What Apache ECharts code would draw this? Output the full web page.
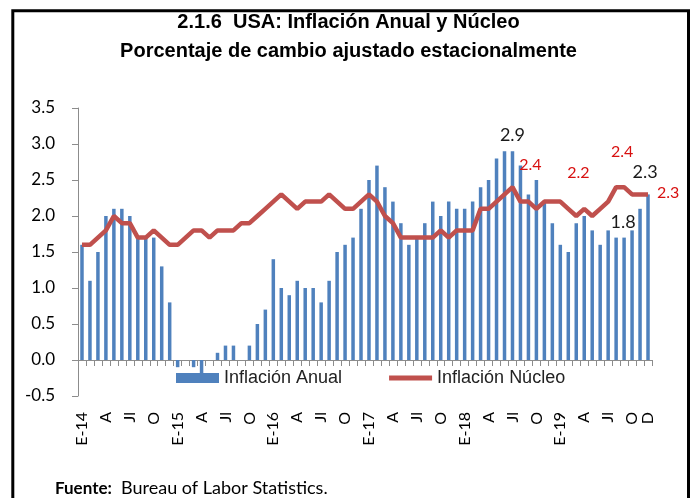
<!DOCTYPE html>
<html>
<head>
<meta charset="utf-8">
<script src="https://cdn.jsdelivr.net/npm/echarts@6/dist/echarts.min.js"></script>
<style>
  html, body { margin: 0; padding: 0; background: #fff; }
  #chart { width: 697px; height: 498px; }
</style>
</head>
<body>
<div id="chart"></div>
<script>
// monthly, Jan 2014 .. Dec 2019
const years = ['14', '15', '16', '17', '18', '19'];
const monthNames = ['E', 'F', 'M', 'A', 'My', 'Jn', 'Jl', 'Ag', 'S', 'O', 'N', 'D'];

const inflacionAnual = [
  1.6, 1.1, 1.5, 2.0, 2.1, 2.1, 2.0, 1.7, 1.7, 1.7, 1.3, 0.8,
  -0.1, 0.0, -0.1, -0.2, 0.0, 0.1, 0.2, 0.2, 0.0, 0.2, 0.5, 0.7,
  1.4, 1.0, 0.9, 1.1, 1.0, 1.0, 0.8, 1.1, 1.5, 1.6, 1.7, 2.1,
  2.5, 2.7, 2.4, 2.2, 1.9, 1.6, 1.7, 1.9, 2.2, 2.0, 2.2, 2.1,
  2.1, 2.2, 2.4, 2.5, 2.8, 2.9, 2.9, 2.7, 2.3, 2.5, 2.2, 1.9,
  1.6, 1.5, 1.9, 2.0, 1.8, 1.6, 1.8, 1.7, 1.7, 1.8, 2.1, 2.3
];
const inflacionNucleo = [
  1.6, 1.6, 1.7, 1.8, 2.0, 1.9, 1.9, 1.7, 1.7, 1.8, 1.7, 1.6,
  1.6, 1.7, 1.8, 1.8, 1.7, 1.8, 1.8, 1.8, 1.9, 1.9, 2.0, 2.1,
  2.2, 2.3, 2.2, 2.1, 2.2, 2.2, 2.2, 2.3, 2.2, 2.1, 2.1, 2.2,
  2.3, 2.2, 2.0, 1.9, 1.7, 1.7, 1.7, 1.7, 1.7, 1.8, 1.7, 1.8,
  1.8, 1.8, 2.1, 2.1, 2.2, 2.3, 2.4, 2.2, 2.2, 2.1, 2.2, 2.2,
  2.2, 2.1, 2.0, 2.1, 2.0, 2.1, 2.2, 2.4, 2.4, 2.3, 2.3, 2.3
];

// points that carry a value label
const anualLabelIdx = [54, 69, 71];
const nucleoLabelIdx = [54, 60, 68, 71];

const categories = [];
years.forEach(y => monthNames.forEach((m, i) => categories.push(i === 0 ? 'E-' + y : m)));

const numFont = 'Lato, "Open Sans", sans-serif';
const titleFont = '"Liberation Sans", Arial, sans-serif';

const anualOffsets = { 54: [0, -2], 69: [-9, 6], 71: [-3, -8] };
const nucleoOffsets = { 54: [18, -9], 60: [18, -16], 68: [-2, -22], 71: [4, -2] };

const barData = inflacionAnual.map((v, i) => {
  if (anualLabelIdx.indexOf(i) < 0) return v;
  return {
    value: v,
    label: { show: true, position: 'top', offset: anualOffsets[i], color: '#1a1a1a', fontSize: 18, fontFamily: numFont }
  };
});
const lineData = inflacionNucleo.map((v, i) => {
  if (nucleoLabelIdx.indexOf(i) < 0) return v;
  return {
    value: v,
    label: { show: true, position: i === 71 ? 'right' : 'top', offset: nucleoOffsets[i], color: '#d81010', fontSize: 16, fontFamily: numFont }
  };
});

const myChart = echarts.init(document.getElementById('chart'));
const option = {
  animation: false,
  backgroundColor: '#fff',
  title: [{
    text: '2.1.6  USA: Inflación Anual y Núcleo\nPorcentaje de cambio ajustado estacionalmente',
    left: 'center',
    top: 3,
    textStyle: { fontFamily: titleFont, fontWeight: 'bold', fontSize: 20, lineHeight: 29, color: '#000' }
  }, {
    text: '{b|Fuente:}{t|  Bureau of Labor Statistics.}',
    left: 50,
    top: 470,
    textStyle: {
      rich: {
        b: { fontFamily: numFont, fontSize: 17, lineHeight: 22, fontWeight: 'bold', color: '#000', verticalAlign: 'bottom' },
        t: { fontFamily: numFont, fontSize: 18, lineHeight: 22, fontWeight: 'normal', color: '#000', verticalAlign: 'bottom' }
      }
    }
  }],
  graphic: [{
    type: 'rect',
    shape: { x: 12.8, y: 10.7, width: 675.7, height: 520 },
    style: { fill: 'none', stroke: '#000', lineWidth: 3 }
  }],
  legend: {
    left: 176,
    top: 369,
    padding: 0,
    itemWidth: 43,
    itemHeight: 10,
    itemGap: 47,
    textStyle: { fontFamily: titleFont, fontSize: 18, color: '#222' },
    data: [
      { name: 'Inflación Anual', icon: 'rect' },
      { name: 'Inflación Núcleo', icon: 'path://M0,0H43V5H0Z' }
    ]
  },
  grid: { left: 78, right: 45, top: 108, bottom: 102 },
  xAxis: {
    type: 'category',
    data: categories,
    axisLine: { onZero: true, lineStyle: { color: '#8c8c8c' } },
    axisTick: { show: true, length: 6, interval: 0, lineStyle: { color: '#8c8c8c' } },
    axisLabel: {
      interval: 0,
      rotate: 90,
      margin: 16,
      fontFamily: numFont,
      fontSize: 16,
      color: '#000',
      formatter: (val, idx) => (idx % 3 === 0 || idx === categories.length - 1) ? val : ''
    },
    splitLine: { show: false }
  },
  yAxis: {
    type: 'value',
    min: -0.5,
    max: 3.5,
    interval: 0.5,
    axisLine: { show: true, lineStyle: { color: '#8c8c8c' } },
    axisTick: { show: true, length: 6, lineStyle: { color: '#8c8c8c' } },
    axisLabel: {
      margin: 23,
      fontFamily: numFont,
      fontSize: 17,
      color: '#000',
      formatter: v => v.toFixed(1)
    },
    splitLine: { show: false }
  },
  series: [{
    name: 'Inflación Anual',
    type: 'bar',
    data: barData,
    barWidth: 3.5,
    itemStyle: { color: '#4f81bd' }
  }, {
    name: 'Inflación Núcleo',
    type: 'line',
    data: lineData,
    symbol: 'circle',
    symbolSize: 0,
    showSymbol: true,
    lineStyle: { color: '#c0504d', width: 4.5 },
    itemStyle: { color: '#c0504d' },
    z: 3
  }]
};
myChart.setOption(option);
</script>
</body>
</html>
